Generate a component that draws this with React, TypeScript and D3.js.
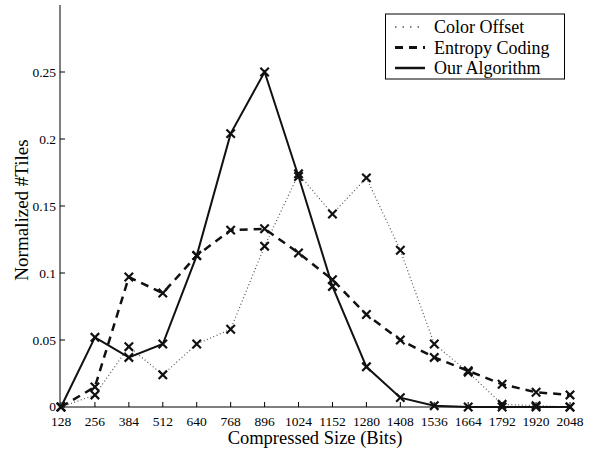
import React, { useEffect, useRef } from "react";
import * as d3 from "d3";

const sizes = [128, 256, 384, 512, 640, 768, 896, 1024, 1152, 1280, 1408, 1536, 1664, 1792, 1920, 2048];
const colorOffset = [0, 0.009, 0.045, 0.024, 0.047, 0.058, 0.12, 0.174, 0.144, 0.171, 0.117, 0.047, 0.026, 0.002, 0.001, 0];
const entropyCoding = [0, 0.015, 0.097, 0.085, 0.113, 0.132, 0.133, 0.115, 0.095, 0.069, 0.05, 0.037, 0.027, 0.017, 0.011, 0.009];
const ourAlgorithm = [0, 0.052, 0.037, 0.047, 0.113, 0.204, 0.25, 0.172, 0.09, 0.03, 0.007, 0.001, 0, 0, 0, 0];
const yTicks = [0, 0.05, 0.1, 0.15, 0.2, 0.25];
const seriesNames = ["Color Offset", "Entropy Coding", "Our Algorithm"];

const W = 595;
const H = 450;
const FONT = "Liberation Serif, Times New Roman, serif";

const styles = [
  { stroke: "#555", width: 1.2, dash: "1,2.5" },
  { stroke: "#111", width: 2.5, dash: "8,6" },
  { stroke: "#111", width: 2, dash: null as string | null },
];

const App: React.FC = () => {
  const svgRef = useRef<SVGSVGElement>(null);

  useEffect(() => {
    if (!svgRef.current) return;
    const svg = d3.select(svgRef.current);
    svg.selectAll("*").remove();
    svg.attr("font-family", FONT);

    const left = 60, right = 572, top = 5, bottom = 407;

    const x = d3.scaleLinear().domain([128, 2048]).range([61, 570]);
    const y = d3.scaleLinear().domain([0, 0.3]).range([bottom, top]);

    const series = [colorOffset, entropyCoding, ourAlgorithm];

    // axes
    svg.append("line")
      .attr("x1", left).attr("x2", left).attr("y1", top).attr("y2", bottom)
      .attr("stroke", "#000").attr("stroke-width", 1);
    svg.append("line")
      .attr("x1", left).attr("x2", right).attr("y1", bottom).attr("y2", bottom)
      .attr("stroke", "#000").attr("stroke-width", 1);

    sizes.forEach(s => {
      svg.append("line")
        .attr("x1", x(s)).attr("x2", x(s)).attr("y1", bottom).attr("y2", bottom - 5)
        .attr("stroke", "#000");
      svg.append("text")
        .attr("x", x(s)).attr("y", bottom + 19)
        .attr("text-anchor", "middle")
        .attr("font-size", 13.5)
        .text(String(s));
    });

    yTicks.forEach(t => {
      svg.append("line")
        .attr("x1", left).attr("x2", left + 5).attr("y1", y(t)).attr("y2", y(t))
        .attr("stroke", "#000");
      svg.append("text")
        .attr("x", left - 4).attr("y", y(t) + (t === 0 ? 3.5 : 5))
        .attr("text-anchor", "end")
        .attr("font-size", 13.5)
        .text(String(t));
    });

    svg.append("text")
      .attr("x", 315).attr("y", 444)
      .attr("text-anchor", "middle")
      .attr("font-size", 18.5)
      .text("Compressed Size (Bits)");

    svg.append("text")
      .attr("transform", `translate(28,210) rotate(-90)`)
      .attr("text-anchor", "middle")
      .attr("font-size", 19)
      .text("Normalized #Tiles");

    const line = d3.line<number>()
      .x((_, i) => x(sizes[i]))
      .y(d => y(d));

    series.forEach((vals, k) => {
      const st = styles[k];
      svg.append("path")
        .datum(vals)
        .attr("d", line)
        .attr("fill", "none")
        .attr("stroke", st.stroke)
        .attr("stroke-width", st.width)
        .attr("stroke-dasharray", st.dash);

      const m = 4.2;
      vals.forEach((v, i) => {
        const cx = x(sizes[i]), cy = y(v);
        svg.append("path")
          .attr("d", `M${cx - m},${cy - m}L${cx + m},${cy + m}M${cx - m},${cy + m}L${cx + m},${cy - m}`)
          .attr("stroke", "#111")
          .attr("stroke-width", 2.2)
          .attr("fill", "none");
      });
    });

    // legend
    const lg = svg.append("g");
    lg.append("rect")
      .attr("x", 385.5).attr("y", 14).attr("width", 179).attr("height", 65)
      .attr("fill", "#fff").attr("stroke", "#000").attr("stroke-width", 1);
    seriesNames.forEach((name, k) => {
      const ly = 27 + k * 20.5;
      const st = styles[k];
      lg.append("line")
        .attr("x1", 395).attr("x2", 425).attr("y1", ly).attr("y2", ly)
        .attr("stroke", st.stroke).attr("stroke-width", st.width + (k === 0 ? 0.3 : 0.5))
        .attr("stroke-dasharray", k === 0 ? "1.5,6" : st.dash);
      lg.append("text")
        .attr("x", 434).attr("y", ly + 6)
        .attr("font-size", 18)
        .text(name);
    });
  }, []);

  return (
    <svg
      ref={svgRef}
      width={W}
      height={H}
      style={{ position: "absolute", left: 0, top: 0, background: "#fff" }}
    />
  );
};

export default App;
